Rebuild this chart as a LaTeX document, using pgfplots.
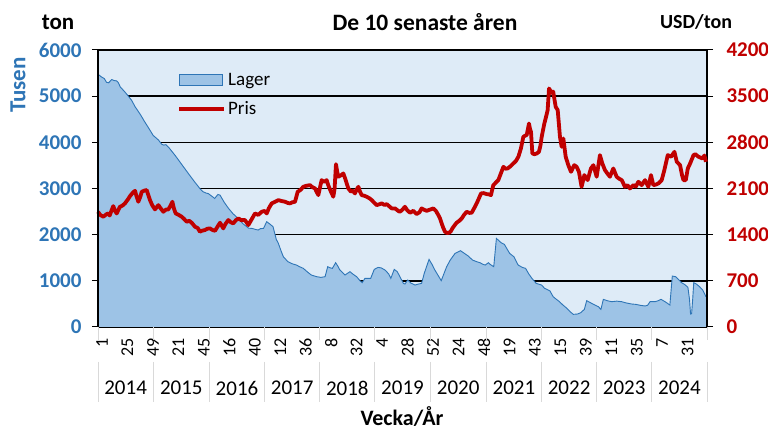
\documentclass[border=0pt]{standalone}
\usepackage{pgfplots}
\pgfplotsset{compat=1.18}
\usepackage{fontspec}
\setmainfont{Carlito}
\definecolor{bgblue}{HTML}{DEEBF7}
\definecolor{areafill}{HTML}{9DC3E6}
\definecolor{areaedge}{HTML}{2E75B6}
\definecolor{lblblue}{HTML}{2E75B6}
\definecolor{pricered}{HTML}{C00000}
\definecolor{sepgray}{HTML}{D9D9D9}
\newcommand{\fs}[1]{\fontsize{#1}{#1}\selectfont}
\begin{document}
\begin{tikzpicture}[x=1pt,y=1pt]
\path[use as bounding box] (0,0) rectangle (768,430);
\begin{axis}[
  at={(98pt,103pt)}, anchor=south west,
  width=609pt, height=277pt, scale only axis,
  xmin=0, xmax=574, ymin=0, ymax=6000,
  axis background/.style={fill=bgblue},
  ytick={0,1000,2000,3000,4000,5000,6000},
  yticklabels={0,1000,2000,3000,4000,5000,6000},
  yticklabel style={font=\fs{21}\bfseries, text=lblblue, anchor=east, xshift=-7pt},
  ymajorgrids, grid style={black, line width=1.4pt},
  axis x line*=bottom, axis y line*=left,
  x axis line style={sepgray, line width=1pt},
  y axis line style={black, line width=1.2pt},
  ytick style={black, line width=1pt},
  tick align=outside, major tick length=6pt,
  xtick={0,24,48,72,96,120,144,168,192,216,240,264,288,312,336,360,384,408,432,456,480,504,528,552},
  xticklabels={1,25,49,21,45,16,40,12,36,8,32,4,28,52,24,48,19,43,15,39,11,35,7,31},
  xtick style={draw=none},
  xticklabel style={rotate=90, anchor=east, font=\fs{18}, yshift=-4pt, xshift=-1.5pt},
  clip=false,
]
\addplot[fill=areafill, draw=none, forget plot] coordinates {
(0,5476) (3,5420) (6,5380) (8,5300) (10,5290) (13,5360) (15,5340) (17.6,5330) (19,5300) (21,5200) (25,5100)
(28.6,5000) (31.7,4910) (35,4770) (40,4600) (44,4445) (48,4300) (52,4150) (57,4050) (60,3960) (62,3940)
(64,3950) (67,3880) (72.6,3720) (78,3550) (85,3330) (91,3145) (96,3000) (99,2930) (102,2900) (104,2890)
(108,2820) (110,2785) (113,2870) (115,2857) (119,2700) (123,2570) (127,2460) (132,2350) (137,2230) (142,2140)
(145,2136) (149,2110) (151,2100) (153,2130) (156,2136) (159,2281) (162,2230) (165,2172) (168,1900) (170,1811)
(172.5,1650) (174.7,1522) (179,1414) (183,1370) (187,1342) (190,1306) (193.5,1270) (197,1200) (201,1126)
(206,1090) (210,1075) (214,1089) (216.5,1306) (219,1280) (220.9,1270) (224,1393) (226,1320) (228,1234)
(232.8,1126) (237.5,1198) (240,1150) (243.8,1089) (247,1000) (249,960) (251.6,1053) (257,1053) (260.4,1248)
(264,1291) (267,1280) (270.5,1234) (274,1150) (276,1053) (279.2,1248) (282,1200) (284.6,1089) (287.8,945)
(289.3,930) (291.9,1017) (295,950) (298.8,909) (302,930) (305,945) (307.5,1162) (312,1464) (315,1350)
(317.5,1234) (321,1100) (323.5,1003) (328.6,1306) (332,1450) (336.5,1594) (341.7,1652) (345,1600) (349,1537)
(353,1450) (357,1414) (360,1393) (363,1356) (365,1342) (368,1393) (370,1350) (373,1306) (375.5,1919)
(380,1825) (383,1790) (388,1594) (392,1522) (396,1342) (400,1290) (403,1270) (406,1150) (409,1053) (413,945)
(418,909) (421,837) (423,815) (426,780) (429,657) (432,600) (435,548) (438,480) (442,404) (445,330) (448,274)
(452,281) (455,310) (458.4,382) (460.6,570) (463,540) (465.3,512) (468,480) (471.6,440) (474,382) (476.3,599)
(480,570) (484,548) (489,560) (493.6,548) (498,520) (503,498) (507,490) (511,470) (515.6,455) (518,470)
(520.3,548) (525,548) (528,570) (530.7,599) (535,540) (539,476) (541.3,1104) (544.5,1089) (547,1030)
(550,960) (553,920) (556,860) (557.5,600) (558.5,280) (559.5,290) (560.5,600) (561.5,960) (564,930)
(567,873) (570,800) (573,657)
} \closedcycle;
\addplot[areaedge, line width=0.9pt, forget plot] coordinates {
(0,5476) (3,5420) (6,5380) (8,5300) (10,5290) (13,5360) (15,5340) (17.6,5330) (19,5300) (21,5200) (25,5100)
(28.6,5000) (31.7,4910) (35,4770) (40,4600) (44,4445) (48,4300) (52,4150) (57,4050) (60,3960) (62,3940)
(64,3950) (67,3880) (72.6,3720) (78,3550) (85,3330) (91,3145) (96,3000) (99,2930) (102,2900) (104,2890)
(108,2820) (110,2785) (113,2870) (115,2857) (119,2700) (123,2570) (127,2460) (132,2350) (137,2230) (142,2140)
(145,2136) (149,2110) (151,2100) (153,2130) (156,2136) (159,2281) (162,2230) (165,2172) (168,1900) (170,1811)
(172.5,1650) (174.7,1522) (179,1414) (183,1370) (187,1342) (190,1306) (193.5,1270) (197,1200) (201,1126)
(206,1090) (210,1075) (214,1089) (216.5,1306) (219,1280) (220.9,1270) (224,1393) (226,1320) (228,1234)
(232.8,1126) (237.5,1198) (240,1150) (243.8,1089) (247,1000) (249,960) (251.6,1053) (257,1053) (260.4,1248)
(264,1291) (267,1280) (270.5,1234) (274,1150) (276,1053) (279.2,1248) (282,1200) (284.6,1089) (287.8,945)
(289.3,930) (291.9,1017) (295,950) (298.8,909) (302,930) (305,945) (307.5,1162) (312,1464) (315,1350)
(317.5,1234) (321,1100) (323.5,1003) (328.6,1306) (332,1450) (336.5,1594) (341.7,1652) (345,1600) (349,1537)
(353,1450) (357,1414) (360,1393) (363,1356) (365,1342) (368,1393) (370,1350) (373,1306) (375.5,1919)
(380,1825) (383,1790) (388,1594) (392,1522) (396,1342) (400,1290) (403,1270) (406,1150) (409,1053) (413,945)
(418,909) (421,837) (423,815) (426,780) (429,657) (432,600) (435,548) (438,480) (442,404) (445,330) (448,274)
(452,281) (455,310) (458.4,382) (460.6,570) (463,540) (465.3,512) (468,480) (471.6,440) (474,382) (476.3,599)
(480,570) (484,548) (489,560) (493.6,548) (498,520) (503,498) (507,490) (511,470) (515.6,455) (518,470)
(520.3,548) (525,548) (528,570) (530.7,599) (535,540) (539,476) (541.3,1104) (544.5,1089) (547,1030)
(550,960) (553,920) (556,860) (557.5,600) (558.5,280) (559.5,290) (560.5,600) (561.5,960) (564,930)
(567,873) (570,800) (573,657)
};
\end{axis}
\begin{axis}[
  at={(98pt,103pt)}, anchor=south west,
  width=609pt, height=277pt, scale only axis,
  xmin=0, xmax=574, ymin=0, ymax=4200,
  axis x line=none, axis y line*=right,
  y axis line style={black, line width=1.2pt},
  ytick={0,700,1400,2100,2800,3500,4200},
  yticklabels={0,700,1400,2100,2800,3500,4200},
  yticklabel style={font=\fs{21}\bfseries, text=pricered, anchor=west, xshift=10pt},
  ytick style={black, line width=1pt},
  tick align=outside, major tick length=6pt,
  clip=false,
  legend style={at={(0.13,0.925)}, anchor=north west, draw=none, fill=none,
    font=\fs{19}, row sep=11pt, inner sep=0pt},
  legend cell align=left,
]
\addlegendimage{legend image code/.code={\draw[fill=areafill,draw=areaedge,line width=1pt] (0pt,-5.5pt) rectangle (43pt,5.5pt);}}
\addlegendentry{Lager}
\addplot[pricered, line width=3.8pt, line join=round,
  legend image code/.code={\draw[pricered,line width=3.8pt] (0pt,0pt) -- (45pt,0pt);}] coordinates {
(0,1747) (2,1700) (5,1672) (8,1710) (9.7,1722) (11,1690) (12.9,1773) (14.4,1833) (16,1760) (17.6,1722)
(20.7,1823) (23,1840) (25.4,1874) (28,1930) (30.2,1985) (33,2040) (34.9,2065) (36,2000) (38,1899) (40,1980)
(41.2,2050) (44,2070) (45.9,2076) (47,2020) (49,1924) (51,1850) (53.7,1783) (56.9,1848) (59,1800) (61.6,1747)
(64,1780) (66.3,1783) (68,1830) (70.1,1899) (71.5,1800) (73.2,1722) (76,1700) (78.9,1672) (81,1640)
(83.6,1596) (86,1610) (88.3,1581) (91.4,1520) (94,1500) (96.1,1444) (98,1460) (100.8,1470) (103,1490)
(105.5,1495) (108,1470) (110.3,1459) (113,1530) (115,1581) (118.1,1495) (120,1560) (122.8,1621) (125,1590)
(127.5,1571) (130,1620) (132.3,1646) (135,1620) (138.5,1621) (141.7,1545) (144,1610) (148,1722) (151,1700)
(154.3,1747) (157,1760) (159,1722) (161,1800) (163.7,1874) (167,1900) (170,1924) (173,1910) (176.3,1899)
(179,1880) (181,1874) (183,1890) (185.7,1899) (188.2,2050) (191,2080) (193.5,2126) (196,2140) (199.8,2151)
(202,2120) (204.6,2101) (206,2050) (207.7,2000) (209,2100) (210.8,2227) (213,2200) (215.5,2227) (217,2150)
(219.6,2050) (221.8,1975) (223,2100) (224.3,2469) (225.5,2350) (226.5,2278) (229,2300) (231.2,2328)
(233,2250) (234.4,2177) (236,2100) (238.4,2050) (240,2070) (242.2,2025) (244,2090) (245.4,2126) (247,2050)
(248.5,2000) (251,1990) (253.2,1975) (256,1950) (258,1924) (260,1890) (262.7,1848) (265,1860) (267.4,1874)
(270,1850) (272.1,1863) (274.5,1830) (276.8,1798) (280,1798) (283,1760) (284.6,1747) (287,1780) (289.3,1823)
(291.5,1770) (294.1,1732) (297.2,1762) (300.3,1712) (303,1740) (305,1798) (307,1780) (309.8,1762) (313,1780)
(316,1798) (318.5,1760) (320.8,1697) (322.5,1640) (323.9,1571) (325.5,1500) (327.1,1444) (329,1425)
(330.8,1429) (332.5,1450) (334,1495) (336,1540) (338,1581) (340.5,1610) (342.8,1646) (345,1700) (347.5,1747)
(350,1730) (352.2,1732) (354.5,1800) (356.9,1874) (359,1950) (361,2025) (363.5,2030) (366.4,2015)
(368.5,2010) (370.4,2000) (371.5,2080) (372.6,2151) (375,2190) (377.3,2227) (379.5,2320) (382.1,2429)
(384,2400) (386.1,2404) (389,2440) (391.5,2480) (394,2520) (396.2,2581) (398.5,2700) (400.9,2884)
(402.5,2900) (404,2909) (405.2,3000) (406.2,3086) (407.2,3000) (408.1,2959) (409.4,2631) (411.5,2620)
(413.5,2631) (415.6,2656) (417,2750) (418.2,2884) (420.7,3086) (422.5,3200) (423.8,3288) (425.1,3616)
(426.5,3580) (427.5,3550) (429,3570) (431.4,3338) (433.3,3288) (435.4,2884) (437,2732) (438.6,2858)
(440.8,2581) (443.3,2454) (445.8,2353) (448.9,2454) (451.1,2429) (453.3,2353) (455.8,2126) (458.4,2303)
(461.5,2227) (464.6,2404) (466.9,2454) (470,2278) (473.1,2606) (475.3,2480) (477.8,2379) (480,2330)
(482.5,2278) (485.7,2404) (488.8,2278) (491,2250) (493.6,2227) (496.7,2126) (499,2150) (501.4,2101)
(504.6,2151) (507,2130) (509.3,2202) (512.4,2151) (515.6,2227) (518.7,2126) (521.2,2303) (523.4,2151)
(526,2160) (528.2,2177) (531.3,2227) (533.8,2379) (537,2606) (540.1,2581) (543.3,2656) (545.5,2505)
(548.6,2454) (550.5,2300) (551.8,2227) (554,2227) (555.9,2404) (558.1,2480) (561.3,2606) (563,2620)
(566,2581) (569.7,2555) (571.5,2600) (573,2505)
};
\addlegendentry{Pris}
\draw[black, line width=1.2pt] (rel axis cs:0,0) -- (rel axis cs:0,1);
\end{axis}
% year separators and labels
\foreach \sx in {98,153.17,209.40,264.57,319.74,374.92,430.09,486.32,541.49,596.66,651.83,707}{
  \draw[sepgray, line width=1pt] (\sx,103) -- (\sx,90);
  \draw[sepgray, line width=1pt] (\sx,68) -- (\sx,28);
}
\foreach \cx/\yr in {125.6/2014,181.3/2015,237.0/2016,292.2/2017,347.3/2018,402.5/2019,458.2/2020,513.9/2021,569.1/2022,624.2/2023,679.4/2024}{
  \node[font=\fs{21}] at (\cx,42) {\yr};
}
\node[font=\fs{22}\bfseries, inner sep=0pt] at (402,13) {Vecka/År};
\node[font=\fs{23.5}\bfseries] at (425,408) {De 10 senaste åren};
\node[font=\fs{23}\bfseries] at (58,408) {ton};
\node[font=\fs{20}\bfseries] at (696,408) {USD/ton};
\node[font=\fs{23}\bfseries, text=lblblue, rotate=90] at (18,345) {Tusen};
\end{tikzpicture}
\end{document}
